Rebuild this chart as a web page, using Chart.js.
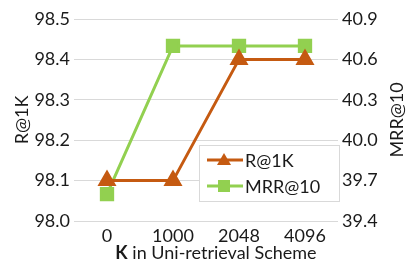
<!DOCTYPE html>
<html><head><meta charset="utf-8">
<script src="https://cdn.jsdelivr.net/npm/chart.js@4.4.1/dist/chart.umd.min.js"></script>
<style>html,body{margin:0;padding:0;background:#fff}#wrap{width:410px;height:265px;position:relative}</style>
</head><body><div id="wrap"><canvas id="c" width="410" height="265"></canvas></div>
<script>
const categories = ["0", "1000", "2048", "4096"];
const recallValues = [98.1, 98.1, 98.4, 98.4];
const mrrValues = [39.6, 40.7, 40.7, 40.7];
const leftTicks = [98.0, 98.1, 98.2, 98.3, 98.4, 98.5];
const rightTicks = [39.4, 39.7, 40.0, 40.3, 40.6, 40.9];
const seriesNames = ["R@1K", "MRR@10"];
const axisTitles = ["R@1K", "MRR@10"];
const xTitleBold = "K";
const xTitleRest = " in Uni-retrieval Scheme";

const ORANGE = "#C55A11", GREEN = "#92D050";
const FONT = "Lato, 'Open Sans', sans-serif";
const FS = 18;
const TXT = "#1a1a1a";

const overlay = {
  id: "overlay",
  afterDraw(chart) {
    const ctx = chart.ctx;
    const ca = chart.chartArea;
    const cy = (ca.top + ca.bottom) / 2;
    ctx.save();
    ctx.fillStyle = TXT;
    ctx.textBaseline = "middle";
    ctx.textAlign = "center";
    ctx.font = FS + "px " + FONT;
    [[22, axisTitles[0]], [397, axisTitles[1]]].forEach(([x, t]) => {
      ctx.save();
      ctx.translate(x, cy);
      ctx.rotate(-Math.PI / 2);
      ctx.fillText(t, 0, 0);
      ctx.restore();
    });
    ctx.textAlign = "left";
    ctx.font = "bold " + FS + "px " + FONT;
    const wb = ctx.measureText(xTitleBold).width;
    ctx.font = FS + "px " + FONT;
    const wr = ctx.measureText(xTitleRest).width;
    const cx = (ca.left + ca.right) / 2 + 10;
    const x0 = cx - (wb + wr) / 2;
    ctx.font = "bold " + FS + "px " + FONT;
    ctx.fillText(xTitleBold, x0, 253);
    ctx.font = FS + "px " + FONT;
    ctx.fillText(xTitleRest, x0 + wb, 253);
    const lx = 199, ly = 145, lw = 140, lh = 56;
    ctx.fillStyle = "#fff";
    ctx.fillRect(lx, ly, lw, lh);
    ctx.strokeStyle = "#d9d9d9";
    ctx.lineWidth = 1;
    ctx.strokeRect(lx + 0.5, ly + 0.5, lw, lh);
    const items = [
      {name: seriesNames[0], color: ORANGE, shape: "triangle", y: 160},
      {name: seriesNames[1], color: GREEN, shape: "rect", y: 186}
    ];
    items.forEach(it => {
      ctx.strokeStyle = it.color;
      ctx.lineWidth = 3;
      ctx.beginPath();
      ctx.moveTo(207, it.y);
      ctx.lineTo(243, it.y);
      ctx.stroke();
      ctx.fillStyle = it.color;
      const mx = 224;
      if (it.shape === "triangle") {
        ctx.beginPath();
        ctx.moveTo(mx, it.y - 7);
        ctx.lineTo(mx + 7, it.y + 5);
        ctx.lineTo(mx - 7, it.y + 5);
        ctx.closePath();
        ctx.fill();
      } else {
        ctx.fillRect(mx - 6, it.y - 6, 12, 12);
      }
      ctx.fillStyle = TXT;
      ctx.font = FS + "px " + FONT;
      ctx.textAlign = "left";
      ctx.fillText(it.name, 245, it.y + 1);
    });
    ctx.restore();
  }
};

new Chart(document.getElementById("c"), {
  type: "line",
  data: {
    labels: categories,
    datasets: [
      {label: seriesNames[0], data: recallValues, yAxisID: "y", borderColor: ORANGE, backgroundColor: ORANGE,
       borderWidth: 3, pointStyle: "triangle", pointRadius: 8, pointHoverRadius: 8, tension: 0},
      {label: seriesNames[1], data: mrrValues, yAxisID: "y2", borderColor: GREEN, backgroundColor: GREEN,
       borderWidth: 3, pointStyle: "rect", pointRadius: 8, pointHoverRadius: 8, tension: 0}
    ]
  },
  options: {
    responsive: false,
    animation: false,
    devicePixelRatio: 1,
    layout: {padding: {top: 19, bottom: 0, left: 0, right: 0}},
    plugins: {legend: {display: false}, tooltip: {enabled: false}},
    scales: {
      x: {
        offset: true,
        grid: {display: false, drawTicks: false},
        border: {display: false},
        ticks: {color: TXT, font: {family: FONT, size: FS}, padding: 4, maxRotation: 0},
        afterFit(s) { s.height = 44; }
      },
      y: {
        position: "left",
        min: 98.0, max: 98.5,
        afterBuildTicks(s) { s.ticks = leftTicks.map(v => ({value: v})); },
        grid: {color: "#d9d9d9", lineWidth: 1, drawTicks: false},
        border: {display: false},
        ticks: {color: TXT, font: {family: FONT, size: FS}, padding: 4, callback: v => Number(v).toFixed(1)},
        afterFit(s) { s.width = 74; }
      },
      y2: {
        position: "right",
        min: 39.4, max: 40.9,
        afterBuildTicks(s) { s.ticks = rightTicks.map(v => ({value: v})); },
        grid: {display: false, drawTicks: false},
        border: {display: false},
        ticks: {color: TXT, font: {family: FONT, size: FS}, padding: 4, callback: v => Number(v).toFixed(1)},
        afterFit(s) { s.width = 72; }
      }
    }
  },
  plugins: [overlay]
});
</script>
</body></html>
